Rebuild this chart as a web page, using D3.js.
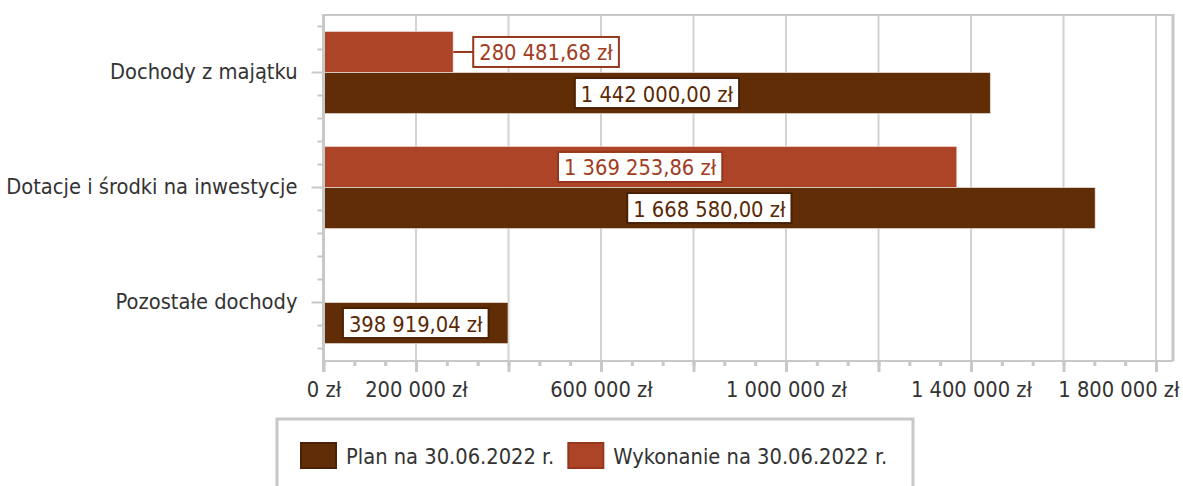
<!DOCTYPE html>
<html>
<head>
<meta charset="utf-8">
<script src="https://cdn.jsdelivr.net/npm/d3@7"></script>
<style>
    html, body { margin: 0; padding: 0; background: #fff; }
    svg text {
        font-family: 'DejaVu Sans Condensed', 'DejaVu Sans', sans-serif;
        font-stretch: condensed;
        font-size: 21.7px;
    }
</style>
</head>
<body>
<div id="chart"></div>
<script>
// data
const categories = ['Dochody z majątku', 'Dotacje i środki na inwestycje', 'Pozostałe dochody'];
const planValues = [1442000.00, 1668580.00, 398919.04];
const wykonanieValues = [280481.68, 1369253.86, null];
const seriesNames = ['Plan na 30.06.2022 r.', 'Wykonanie na 30.06.2022 r.'];
const axisLabelValues = [0, 200000, 600000, 1000000, 1400000, 1800000];

const colors = { plan: '#612d07', wyk: '#ad4427' };
const strokeColors = { plan: '#4a2104', wyk: '#95361d' };
const textColors = { plan: '#5a2906', wyk: '#a13c22' };

const width = 1183;
const height = 486;
const plot = { left: 323.5, top: 15, right: 1173, bottom: 360 };

const pl = d3.formatLocale({ decimal: ',', thousands: ' ', grouping: [3], currency: ['', ' zł'] });
const fmtValue = d => pl.format(',.2f')(d) + ' zł';
const fmtAxis = d => pl.format(',')(d) + ' zł';

const svg = d3.select('#chart').append('svg')
    .attr('width', width)
    .attr('height', height);

// scales
const x = d3.scaleLinear().domain([0, 1800000]).range([plot.left, 1156]);
const y = d3.scaleBand().domain(categories).range([plot.top, plot.bottom]);
const ySub = d3.scaleBand().domain(['wyk', 'plan']).range([0, y.bandwidth()]).paddingOuter(0.4);

const gridColor = '#d2d2d2';
const axisColor = '#c8c8c8';

// gridlines + plot border
const majorTicks = d3.range(0, 1800001, 200000);
const minorTicks = d3.range(0, 1800001, 200000 / 3);

svg.append('g').selectAll('line')
    .data(majorTicks.slice(1))
    .join('line')
    .attr('x1', d => x(d)).attr('x2', d => x(d))
    .attr('y1', plot.top).attr('y2', plot.bottom)
    .attr('stroke', gridColor).attr('stroke-width', 2);

svg.append('line')
    .attr('x1', plot.left).attr('x2', plot.right)
    .attr('y1', plot.top).attr('y2', plot.top)
    .attr('stroke', axisColor).attr('stroke-width', 2);
svg.append('line')
    .attr('x1', plot.right).attr('x2', plot.right)
    .attr('y1', plot.top - 1).attr('y2', plot.bottom + 1)
    .attr('stroke', axisColor).attr('stroke-width', 3);

// bars
const rows = categories.map((c, i) => ({ cat: c, plan: planValues[i], wyk: wykonanieValues[i] }));
const barData = [];
rows.forEach(r => {
    ['wyk', 'plan'].forEach(s => {
        if (r[s] != null) barData.push({ cat: r.cat, series: s, value: r[s] });
    });
});

svg.append('g').selectAll('rect')
    .data(barData)
    .join('rect')
    .attr('x', x(0))
    .attr('y', d => y(d.cat) + ySub(d.series))
    .attr('width', d => x(d.value) - x(0))
    .attr('height', ySub.bandwidth())
    .attr('fill', d => colors[d.series])
    .attr('stroke', 'rgba(255,255,255,0.55)')
    .attr('stroke-width', 1);

// axes
const gx = svg.append('g').attr('transform', `translate(0,${plot.bottom})`);
gx.append('g').call(d3.axisBottom(x).tickValues(minorTicks).tickSize(6).tickFormat(''));
gx.append('g').call(d3.axisBottom(x).tickValues(majorTicks).tickSize(12).tickFormat(''));
const gxLabels = gx.append('g')
    .call(d3.axisBottom(x).tickValues(axisLabelValues).tickSize(0).tickPadding(22).tickFormat(fmtAxis));
gx.selectAll('.domain').remove();
gx.selectAll('line').attr('stroke', axisColor).attr('stroke-width', 3);
gx.append('line')
    .attr('x1', plot.left).attr('x2', plot.right)
    .attr('y1', 1).attr('y2', 1)
    .attr('stroke', axisColor).attr('stroke-width', 2);
gx.selectAll('text').attr('fill', '#333').attr('font-size', null);

// keep the last label inside the canvas
gxLabels.selectAll('.tick text').each(function () {
    const b = this.getBBox();
    const tick = d3.select(this.parentNode);
    const tx = +tick.attr('transform').match(/translate\(([-\d.]+)/)[1];
    const right = tx + b.x + b.width;
    if (right > width - 3) d3.select(this).attr('x', width - 3 - right);
});

const yMinor = [];
categories.forEach(c => {
    [-2, -1, 1, 2].forEach(k => yMinor.push(y(c) + y.bandwidth() / 2 + k * y.bandwidth() / 5));
});
const gy = svg.append('g');
gy.selectAll('.minor')
    .data(yMinor)
    .join('line')
    .attr('class', 'minor')
    .attr('x1', plot.left - 6).attr('x2', plot.left)
    .attr('y1', d => d).attr('y2', d => d)
    .attr('stroke', axisColor).attr('stroke-width', 2);
gy.append('g')
    .attr('transform', `translate(${plot.left},0)`)
    .call(d3.axisLeft(y).tickSize(12).tickPadding(14))
    .call(g => g.select('.domain').remove())
    .call(g => g.selectAll('line').attr('stroke', axisColor).attr('stroke-width', 2))
    .call(g => g.selectAll('text').attr('fill', '#333').attr('font-size', null));
gy.append('line')
    .attr('x1', plot.left).attr('x2', plot.left)
    .attr('y1', plot.top - 1).attr('y2', plot.bottom + 12)
    .attr('stroke', axisColor).attr('stroke-width', 3);

// data labels
const labelG = svg.append('g');
barData.forEach(d => {
    const g = labelG.append('g');
    const box = g.append('rect');
    const t = g.append('text')
        .attr('fill', textColors[d.series])
        .attr('dominant-baseline', 'central')
        .attr('text-anchor', 'middle')
        .text(fmtValue(d.value));
    const tw = t.node().getComputedTextLength();
    const bw = tw + 12;
    const bh = 30;
    const cy = y(d.cat) + ySub(d.series) + ySub.bandwidth() / 2;
    const barW = x(d.value) - x(0);
    let cx;
    if (bw + 10 < barW) {
        cx = x(0) + barW / 2;
    } else {
        cx = x(d.value) + 20 + bw / 2;
        g.append('line')
            .attr('x1', x(d.value)).attr('x2', cx - bw / 2)
            .attr('y1', cy).attr('y2', cy)
            .attr('stroke', strokeColors[d.series]).attr('stroke-width', 2)
            .lower();
    }
    t.attr('x', cx).attr('y', cy + 1);
    box.attr('x', cx - bw / 2).attr('y', cy - bh / 2)
        .attr('width', bw).attr('height', bh)
        .attr('fill', '#fff')
        .attr('stroke', strokeColors[d.series]).attr('stroke-width', 2);
});

// legend
const legend = svg.append('g');
legend.append('rect')
    .attr('x', 277).attr('y', 419)
    .attr('width', 636).attr('height', 100)
    .attr('fill', '#fff')
    .attr('stroke', axisColor).attr('stroke-width', 3);

let lx = 301;
['plan', 'wyk'].forEach((s, i) => {
    legend.append('rect')
        .attr('x', lx).attr('y', 443)
        .attr('width', 35).attr('height', 25)
        .attr('fill', colors[s])
        .attr('stroke', strokeColors[s]).attr('stroke-width', 2);
    const t = legend.append('text')
        .attr('x', lx + 45).attr('y', 456)
        .attr('dominant-baseline', 'central')
        .attr('fill', '#333')
        .text(seriesNames[i]);
    lx += 45 + t.node().getComputedTextLength() + 14;
});
</script>
</body>
</html>
